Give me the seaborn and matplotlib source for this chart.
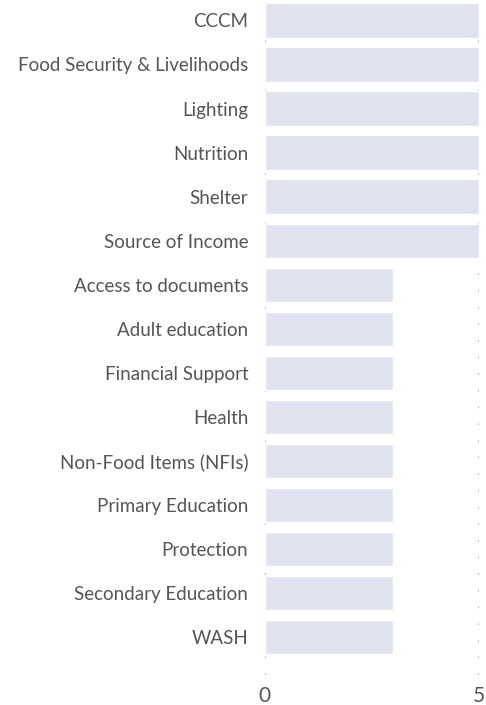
import matplotlib
matplotlib.use('Agg')
import matplotlib.pyplot as plt
import seaborn as sns
import pandas as pd

# 데이터
categories = ['CCCM', 'Food Security & Livelihoods', 'Lighting', 'Nutrition', 'Shelter',
              'Source of Income', 'Access to documents', 'Adult education', 'Financial Support',
              'Health', 'Non-Food Items (NFIs)', 'Primary Education', 'Protection',
              'Secondary Education', 'WASH']
values = [5, 5, 5, 5, 5, 5, 3, 3, 3, 3, 3, 3, 3, 3, 3]
x_ticks = [0, 5]

df = pd.DataFrame({'category': categories, 'value': values})

sns.set_style('white')
plt.rcParams['font.family'] = ['Lato', 'DejaVu Sans']

fig = plt.figure(figsize=(4.86, 7.05), dpi=100)
ax = fig.add_axes([0.545, 0.043, 0.4406, 0.958])

sns.barplot(data=df, y='category', x='value', color='#dfe3f0', saturation=1,
            width=0.78, ax=ax)

ax.set_xlim(0, 5)
ax.set_ylim(14.85, -0.48)
ax.set_xticks(x_ticks)
for x in x_ticks:
    ax.axvline(x, color='#aaaaaa', linestyle=(0, (1, 9)), linewidth=1.2, zorder=0)

ax.set_xlabel('')
ax.set_ylabel('')
ax.tick_params(axis='y', labelsize=13.5, labelcolor='#555555', length=0, pad=12)
ax.tick_params(axis='x', labelsize=15, labelcolor='#555555', length=0, pad=8)
sns.despine(ax=ax, left=True, bottom=True)

fig.savefig('out.png', dpi=100)
